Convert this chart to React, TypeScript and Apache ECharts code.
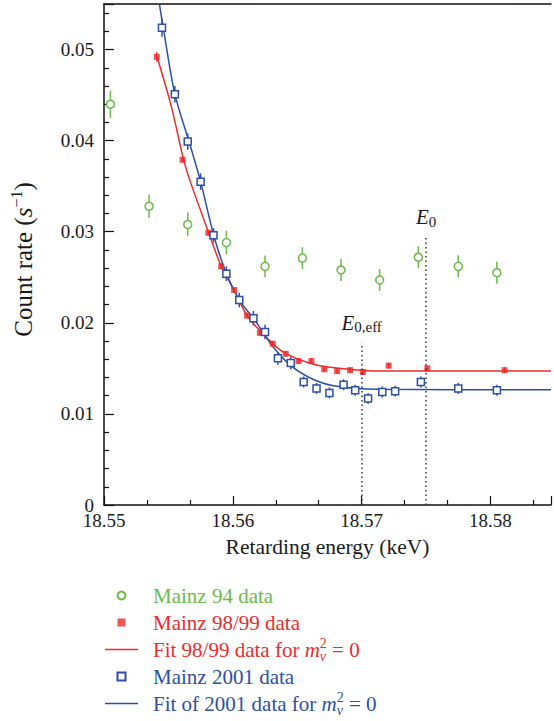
import React, { useEffect, useRef } from 'react';
import * as echarts from 'echarts';

const FONT = 'Liberation Serif, Times New Roman, serif';
const GREEN = '#6cbb4a';
const RED = '#ee2b2b';
const BLUE = '#2d4fa6';
const INK = '#1a1a1a';

// Axis setup and tick labels
const xMin = 18.55;
const xMax = 18.5847;
const xStep = 0.01;
const xTickLabels = ['18.55', '18.56', '18.57', '18.58'];
const yMin = 0;
const yMax = 0.055;
const yStep = 0.01;
const yTickLabels = ['0', '0.01', '0.02', '0.03', '0.04', '0.05'];

// Mainz 94 data
const m94X = [18.5505, 18.5535, 18.5565, 18.5595, 18.5625, 18.5654, 18.5684, 18.5714, 18.5744, 18.5775, 18.5805];
const m94Y = [0.0440, 0.0328, 0.0308, 0.0288, 0.0262, 0.0271, 0.0258, 0.0247, 0.0272, 0.0262, 0.0255];
const m94Err = [0.0015, 0.0013, 0.0013, 0.0013, 0.0012, 0.0012, 0.0012, 0.0012, 0.0012, 0.0012, 0.0012];

// Mainz 98/99 data
const m98X = [18.5541, 18.5561, 18.5581, 18.5591, 18.5601, 18.5611, 18.5621, 18.5631, 18.5641, 18.5651, 18.5661, 18.5671, 18.5681, 18.5691, 18.5701, 18.5721, 18.5751, 18.5811];
const m98Y = [0.0492, 0.0379, 0.0299, 0.0262, 0.0236, 0.0208, 0.0189, 0.0177, 0.0166, 0.0158, 0.0158, 0.0149, 0.0147, 0.0148, 0.0146, 0.0153, 0.0150, 0.0148];
const m98Err = [0.0005, 0.0003, 0.0003, 0.0003, 0.0003, 0.0003, 0.0003, 0.0003, 0.0003, 0.0003, 0.0003, 0.0003, 0.0003, 0.0003, 0.0003, 0.0003, 0.0003, 0.0003];

// Fit of 98/99 data
const fit98X = [18.5541, 18.5552, 18.5562, 18.5567, 18.5581, 18.5591, 18.5601, 18.5611, 18.5622, 18.5639, 18.5664, 18.5690, 18.5713, 18.5847];
const fit98Y = [0.0493, 0.0439, 0.0378, 0.0355, 0.0300, 0.0262, 0.0236, 0.0208, 0.0190, 0.0168, 0.0154, 0.0149, 0.0147, 0.0147];

// Mainz 2001 data
const m01X = [18.5545, 18.5555, 18.5565, 18.5575, 18.5585, 18.5595, 18.5605, 18.5616, 18.5625, 18.5635, 18.5645, 18.5655, 18.5665, 18.5675, 18.5686, 18.5695, 18.5705, 18.5716, 18.5726, 18.5746, 18.5775, 18.5805];
const m01Y = [0.0524, 0.0451, 0.0399, 0.0355, 0.0296, 0.0254, 0.0225, 0.0205, 0.0190, 0.0161, 0.0156, 0.0135, 0.0128, 0.0123, 0.0132, 0.0126, 0.0117, 0.0124, 0.0125, 0.0135, 0.0128, 0.0126];
const m01Err = [0.0010, 0.0009, 0.0009, 0.0009, 0.0008, 0.0008, 0.0008, 0.0008, 0.0008, 0.0007, 0.0007, 0.0006, 0.0006, 0.0006, 0.0006, 0.0006, 0.0006, 0.0006, 0.0006, 0.0006, 0.0006, 0.0006];

// Fit of 2001 data
const fit01X = [18.5543, 18.5546, 18.5555, 18.5566, 18.5575, 18.5585, 18.5595, 18.5605, 18.5616, 18.5631, 18.5646, 18.5664, 18.5682, 18.5713, 18.5847];
const fit01Y = [0.0550, 0.0524, 0.0451, 0.0399, 0.0355, 0.0297, 0.0254, 0.0225, 0.0205, 0.0174, 0.0152, 0.0137, 0.0130, 0.0127, 0.01265];

// Endpoint markers
const markerX = [18.5700, 18.5750];
const markerTop = [0.0178, 0.0294];
const markerSub = ['0,eff', '0'];

const seriesNames = [
  'Mainz 94 data',
  'Mainz 98/99 data',
  'Fit 98/99 data for mν2 = 0',
  'Mainz 2001 data',
  'Fit of 2001 data for mν2 = 0',
];
const legendColors = [GREEN, RED, RED, BLUE, BLUE];
const legendIcons = [
  'circle',
  'path://M0 0H10V10H0Z',
  'path://M0 0H40V1.6H0Z',
  'path://M0 0H10V10H0Z',
  'path://M0 0H40V1.6H0Z',
];

const zip = (xs: number[], ys: number[]) => xs.map((x, i) => [x, ys[i]]);

const errSeries = (id: string, xs: number[], ys: number[], es: number[], color: string) => ({
  type: 'custom',
  name: id,
  z: 1,
  silent: true,
  data: xs.map((x, i) => [x, ys[i], es[i]]),
  encode: { x: 0, y: 1 },
  renderItem: (_p: any, api: any) => {
    const x = api.value(0);
    const y = api.value(1);
    const e = api.value(2);
    const a = api.coord([x, y - e]);
    const b = api.coord([x, y + e]);
    return {
      type: 'line',
      shape: { x1: a[0], y1: a[1], x2: b[0], y2: b[1] },
      style: { stroke: color, lineWidth: 1.5 },
    };
  },
});

const axisLineStyle = { color: '#111', width: 1.5 };

export default function App() {
  const ref = useRef<HTMLDivElement>(null);

  useEffect(() => {
    if (!ref.current) return;
    const chart = echarts.init(ref.current, undefined, { renderer: 'svg' });

    const legendRich = {
      t: { fontFamily: FONT, fontSize: 21, lineHeight: 27 },
      m: { fontStyle: 'italic', fontSize: 21, fontFamily: FONT, lineHeight: 27 },
      sb: { fontStyle: 'italic', fontSize: 14, fontFamily: FONT, verticalAlign: 'bottom', lineHeight: 12, width: 0.01 },
      sp: { fontSize: 14, fontFamily: FONT, verticalAlign: 'top', lineHeight: 20 },
    };

    const legendFormat = (name: string) => {
      const parts = name.split('mν2');
      if (parts.length === 1) return '{t|' + name + '}';
      return '{t|' + parts[0] + '}{m|m}{sb|ν}{sp|2}{t|' + parts[1] + '}';
    };

    const option: any = {
      animation: false,
      backgroundColor: '#fff',
      grid: {
        left: 103,
        right: 0,
        top: 4,
        bottom: 216,
        show: false,
      },
      xAxis: [
        {
          type: 'value',
          min: xMin,
          max: xMax,
          interval: xStep,
          splitLine: { show: false },
          axisLine: { lineStyle: axisLineStyle },
          axisTick: { inside: true, length: 9, lineStyle: { color: '#111', width: 1.2 } },
          minorTick: { show: true, splitNumber: 3, length: 5, lineStyle: { color: '#111', width: 1.2 } },
          minorSplitLine: { show: false },
          axisLabel: {
            fontFamily: FONT,
            fontSize: 19,
            lineHeight: 15,
            color: INK,
            margin: 8,
            formatter: (v: number) => {
              const i = Math.round((v - xMin) / xStep);
              return Math.abs(v - (xMin + i * xStep)) < 1e-6 && xTickLabels[i] ? '{a|' + xTickLabels[i] + '}' : '';
            },
            rich: { a: { fontFamily: FONT, fontSize: 19, lineHeight: 15, color: INK } },
          },
          name: '{a|Retarding energy (keV)}',
          nameLocation: 'middle',
          nameGap: 31,
          nameTextStyle: {
            fontFamily: FONT,
            fontSize: 21.5,
            color: INK,
            rich: { a: { fontFamily: FONT, fontSize: 21.5, color: INK } },
          },
        },
        {
          type: 'value',
          position: 'top',
          min: xMin,
          max: xMax,
          axisLine: { show: true, lineStyle: axisLineStyle },
          axisTick: { show: false },
          axisLabel: { show: false },
          splitLine: { show: false },
        },
      ],
      yAxis: {
        type: 'value',
        min: yMin,
        max: yMax,
        interval: yStep,
        splitLine: { show: false },
        axisLine: { show: true, lineStyle: axisLineStyle },
        axisTick: { show: true, inside: true, length: 10, lineStyle: { color: '#111', width: 1.2 } },
        minorTick: { show: true, splitNumber: 5, length: 5, lineStyle: { color: '#111', width: 1.2 } },
        axisLabel: {
          fontFamily: FONT,
          fontSize: 19,
          lineHeight: 14,
          color: INK,
          margin: 10,
          formatter: (v: number) => {
            const i = Math.round((v - yMin) / yStep);
            return Math.abs(v - (yMin + i * yStep)) < 1e-9 && yTickLabels[i] ? '{a|' + yTickLabels[i] + '}' : '';
          },
          rich: { a: { fontFamily: FONT, fontSize: 19, lineHeight: 14, color: INK } },
        },
        name: '{a|Count rate (}{it|s}{sp|−1}{a|)}',
        nameLocation: 'middle',
        nameGap: 66,
        nameTextStyle: {
          fontFamily: FONT,
          fontSize: 25,
          color: INK,
          lineHeight: 30,
          padding: [0, 10, 0, 0],
          rich: {
            a: { fontFamily: FONT, fontSize: 25, lineHeight: 30, color: INK },
            it: { fontStyle: 'italic', fontFamily: FONT, fontSize: 25, lineHeight: 30, color: INK },
            sp: { fontFamily: FONT, fontSize: 16, verticalAlign: 'top', lineHeight: 18, color: INK },
          },
        },
      },
      legend: {
        orient: 'vertical',
        left: 105,
        top: 582,
        padding: 0,
        itemWidth: 33,
        itemHeight: 8,
        itemGap: 0,
        selectedMode: false,
        data: seriesNames.map((n, i) => ({
          name: n,
          icon: legendIcons[i],
          textStyle: { color: legendColors[i] },
        })),
        formatter: legendFormat,
        textStyle: {
          fontFamily: FONT,
          fontSize: 21,
          lineHeight: 27,
          padding: [0, 0, 0, 10],
          rich: legendRich,
        },
      },
      series: [
        errSeries('err94', m94X, m94Y, m94Err, GREEN),
        errSeries('err98', m98X, m98Y, m98Err, RED),
        errSeries('err01', m01X, m01Y, m01Err, BLUE),
        {
          type: 'scatter',
          name: seriesNames[0],
          z: 3,
          symbol: 'circle',
          symbolSize: 8,
          itemStyle: { color: '#fff', borderColor: GREEN, borderWidth: 1.5, opacity: 1 },
          data: zip(m94X, m94Y),
        },
        {
          type: 'line',
          name: seriesNames[2],
          z: 2,
          smooth: 0.3,
          symbol: 'none',
          showSymbol: false,
          lineStyle: { color: RED, width: 1.5 },
          itemStyle: { color: RED },
          data: zip(fit98X, fit98Y),
          markLine: {
            silent: true,
            symbol: ['none', 'none'],
            lineStyle: { color: '#333', width: 1.5, type: [1.5, 3] },
            label: {
              show: true,
              position: 'end',
              distance: 8,
              color: INK,
              fontFamily: FONT,
              fontSize: 20,
              lineHeight: 24,
              formatter: (p: any) => '{e|E}{s|' + p.name + '}',
              rich: {
                e: { fontStyle: 'italic', fontFamily: FONT, fontSize: 21, lineHeight: 24, color: INK },
                s: { fontFamily: FONT, fontSize: 15, verticalAlign: 'bottom', lineHeight: 14, color: INK },
              },
            },
            data: markerX.map((x, i) => [
              { coord: [x, 0], name: markerSub[i] },
              { coord: [x, markerTop[i]] },
            ]),
          },
        },
        {
          type: 'scatter',
          name: seriesNames[1],
          z: 3,
          symbol: 'rect',
          symbolSize: 6,
          itemStyle: { color: RED },
          data: zip(m98X, m98Y),
        },
        {
          type: 'line',
          name: seriesNames[4],
          z: 2,
          smooth: 0.3,
          symbol: 'none',
          showSymbol: false,
          lineStyle: { color: BLUE, width: 1.5 },
          itemStyle: { color: BLUE },
          data: zip(fit01X, fit01Y),
        },
        {
          type: 'scatter',
          name: seriesNames[3],
          z: 3,
          symbol: 'rect',
          symbolSize: 7,
          itemStyle: { color: '#fff', borderColor: BLUE, borderWidth: 1.5, opacity: 1 },
          data: zip(m01X, m01Y),
        },
      ],
    };

    chart.setOption(option);
    return () => chart.dispose();
  }, []);

  return (
    <div
      ref={ref}
      style={{ position: 'absolute', left: 0, top: 0, width: 554, height: 721, background: '#fff' }}
    />
  );
}
